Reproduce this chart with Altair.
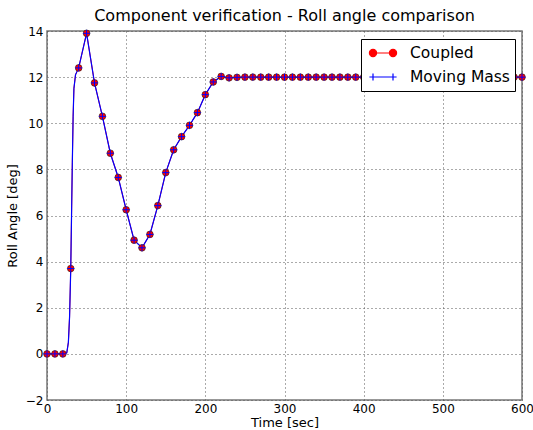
import altair as alt
import pandas as pd

# ---- data ----
series_names = ["Coupled", "Moving Mass"]
series_colors = ["#ff0000", "#0000ff"]

# Coupled: samples drawn as a line, markers every 10 s
time_coupled = [0, 10, 20, 25, 27, 28.5, 30, 31, 32, 33, 34, 36, 40, 50, 60, 70, 80, 90,
                100, 110, 120, 130, 140, 150, 160, 170, 180, 190,
                200, 210, 220, 230, 240, 250, 260, 270, 280, 290,
                300, 310, 320, 330, 340, 350, 360, 370, 380, 390,
                400, 410, 420, 430, 440, 450, 460, 470, 480, 490,
                500, 510, 520, 530, 540, 550, 560, 570, 580, 590, 600]
roll_coupled = [0.0, 0.0, 0.0, 0.05, 0.5, 1.6, 3.7, 6.0, 8.3, 10.3, 11.5, 12.1, 12.4, 13.9, 11.75, 10.3, 8.7, 7.65,
                6.25, 4.93, 4.6, 5.18, 6.43, 7.86, 8.85, 9.42, 9.91, 10.46,
                11.24, 11.79, 12.03, 11.97, 11.99, 12.0, 12.0, 12.0, 12.0, 12.0,
                12.0, 12.0, 12.0, 12.0, 12.0, 12.0, 12.0, 12.0, 12.0, 12.0,
                12.0, 12.0, 12.0, 12.0, 12.0, 12.0, 12.0, 12.0, 12.0, 12.0,
                12.0, 12.0, 12.0, 12.0, 12.0, 12.0, 12.0, 12.0, 12.0, 12.0, 12.0]

# Moving Mass
time_mm = [0, 10, 20, 25, 27, 28.5, 30, 31, 32, 33, 34, 36, 40, 50, 60, 70, 80, 90,
           100, 110, 120, 130, 140, 150, 160, 170, 180, 190,
           200, 210, 220, 230, 240, 250, 260, 270, 280, 290,
           300, 310, 320, 330, 340, 350, 360, 370, 380, 390,
           400, 410, 420, 430, 440, 450, 460, 470, 480, 490,
           500, 510, 520, 530, 540, 550, 560, 570, 580, 590, 600]
roll_mm = [0.0, 0.0, 0.0, 0.05, 0.5, 1.6, 3.7, 6.0, 8.3, 10.3, 11.5, 12.1, 12.4, 13.9, 11.75, 10.3, 8.7, 7.65,
           6.25, 4.93, 4.6, 5.18, 6.43, 7.86, 8.85, 9.42, 9.91, 10.46,
           11.24, 11.79, 12.03, 11.97, 11.99, 12.0, 12.0, 12.0, 12.0, 12.0,
           12.0, 12.0, 12.0, 12.0, 12.0, 12.0, 12.0, 12.0, 12.0, 12.0,
           12.0, 12.0, 12.0, 12.0, 12.0, 12.0, 12.0, 12.0, 12.0, 12.0,
           12.0, 12.0, 12.0, 12.0, 12.0, 12.0, 12.0, 12.0, 12.0, 12.0, 12.0]

x_ticks = [0, 100, 200, 300, 400, 500, 600]
y_ticks = [-2, 0, 2, 4, 6, 8, 10, 12, 14]

# ---- tables ----
df_c = pd.DataFrame({"time": time_coupled, "roll": roll_coupled, "series": series_names[0]})
df_cm = df_c[df_c["time"] % 10 == 0]
df_m = pd.DataFrame({"time": time_mm, "roll": roll_mm, "series": series_names[1]})
df_mk = df_m[df_m["time"] % 10 == 0]
df_leg = pd.DataFrame({"series": series_names, "time": [0, 0], "roll": [0.0, 0.0]})

# legend symbols (line with two markers); unit = 8 px for symbolSize 256
path_coupled = ("M-1.7,0L1.7,0"
                "M-0.8,0A0.45,0.45,0,1,1,-1.7,0A0.45,0.45,0,1,1,-0.8,0Z"
                "M1.7,0A0.45,0.45,0,1,1,0.8,0A0.45,0.45,0,1,1,1.7,0Z")
path_mm = "M-1.7,0L1.7,0M-1.25,-0.45L-1.25,0.45M1.25,-0.45L1.25,0.45"
plus_path = "M-1,0L1,0M0,-1L0,1"

x_enc = alt.X("time:Q", scale=alt.Scale(domain=[0, 600], nice=False, zero=False),
              axis=alt.Axis(values=x_ticks, title="Time [sec]", labelPadding=3,
                            titlePadding=2, labelFlush=False, labelOverlap=False))
y_enc = alt.Y("roll:Q", scale=alt.Scale(domain=[-2, 14], nice=False, zero=False),
              axis=alt.Axis(values=y_ticks, title="Roll Angle [deg]", labelPadding=4,
                            titlePadding=6, labelFlush=False, labelOverlap=False))

red_line = alt.Chart(df_c).mark_line(color="#ff0000", strokeWidth=1).encode(x=x_enc, y=y_enc)
red_pts = alt.Chart(df_cm).mark_circle(size=45, color="#ff0000", stroke="#202020",
                                       strokeWidth=0.6, opacity=1).encode(x=x_enc, y=y_enc)
blue_line = alt.Chart(df_m).mark_line(color="#0000ff", strokeWidth=1.2).encode(x=x_enc, y=y_enc)
blue_pts = alt.Chart(df_mk).mark_point(shape=plus_path, size=49, color="#0000ff",
                                       strokeWidth=1, opacity=1).encode(x=x_enc, y=y_enc)

leg = alt.Legend(title=None, orient="none", legendX=314, legendY=8, direction="vertical",
                 symbolOpacity=1)
legend_layer = alt.Chart(df_leg).mark_point(filled=True, opacity=0).encode(
    x=x_enc, y=y_enc,
    fill=alt.Fill("series:N", scale=alt.Scale(domain=series_names, range=series_colors), legend=leg),
    stroke=alt.Stroke("series:N", scale=alt.Scale(domain=series_names, range=series_colors), legend=leg),
    shape=alt.Shape("series:N", scale=alt.Scale(domain=series_names, range=[path_coupled, path_mm]), legend=leg),
)

chart = alt.layer(red_line, blue_line, red_pts, blue_pts, legend_layer).properties(
    width=475, height=369,
    autosize=alt.AutoSizeParams(type="none"),
    padding={"left": 47, "top": 31, "right": 11, "bottom": 30},
    title=alt.TitleParams("Component verification - Roll angle comparison", font="DejaVu Sans",
                          fontSize=16, fontWeight="normal", color="black", anchor="middle", offset=1),
).configure_view(
    stroke="#777777", strokeWidth=1.5
).configure_axis(
    grid=True, gridColor="#555555", gridDash=[1, 3], gridWidth=1, domain=False, ticks=False,
    labelFont="DejaVu Sans", labelFontSize=12, labelColor="black",
    titleFont="DejaVu Sans", titleFontSize=13, titleFontWeight="normal", titleColor="black"
).configure_legend(
    padding=5, strokeColor="black", strokeWidth=1, fillColor="white", cornerRadius=0,
    labelFont="DejaVu Sans", labelFontSize=15.5, labelColor="black",
    symbolSize=256, symbolStrokeWidth=1.2, symbolOffset=8, labelOffset=18, rowPadding=6
)

chart.save("out.html", embed_options={"renderer": "svg", "actions": False})
